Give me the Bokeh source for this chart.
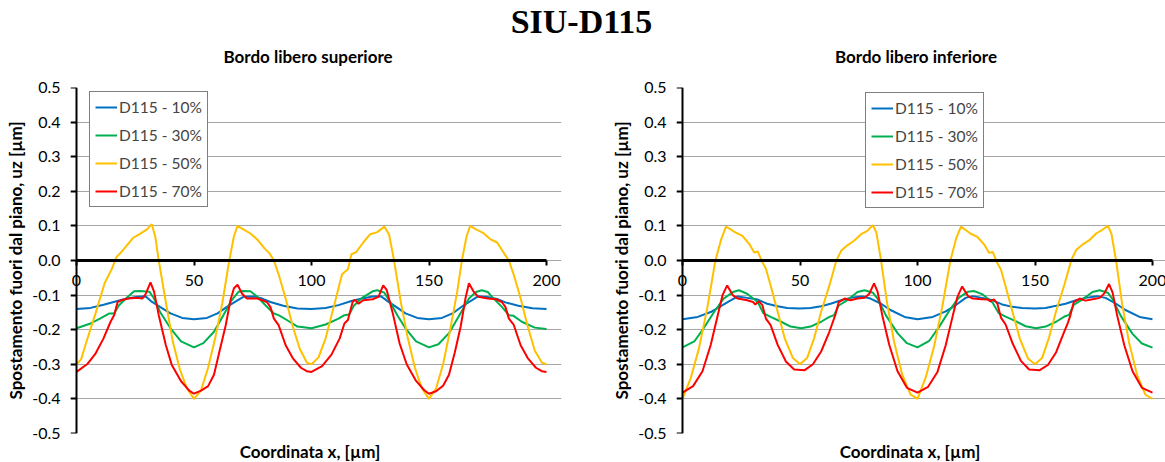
from bokeh.plotting import figure
from bokeh.models import (FixedTicker, LinearAxis, PrintfTickFormatter, Legend,
                          LegendItem, Div, Range1d, Spacer)
from bokeh.layouts import column, row
from bokeh.embed import file_html
from bokeh.resources import INLINE

# ---------------- data ----------------
MAIN_TITLE = "SIU-D115"
PANEL_TITLES = ["Bordo libero superiore", "Bordo libero inferiore"]
X_LABEL = "Coordinata x, [µm]"
Y_LABEL = "Spostamento fuori dal piano, uz [µm]"
SERIES_NAMES = ["D115 - 10%", "D115 - 30%", "D115 - 50%", "D115 - 70%"]
X_MIN, X_MAX = 0, 200
Y_MIN, Y_MAX = -0.5, 0.5
X_TICKS = [0, 50, 100, 150, 200]
Y_TICKS = [-0.5, -0.4, -0.3, -0.2, -0.1, 0.0, 0.1, 0.2, 0.3, 0.4, 0.5]

# Bordo libero superiore
L10_X = [0, 6, 11.5, 17, 21.5, 26, 29.5, 32, 35.5, 40, 45, 50, 55.5, 60, 64, 68.5, 71, 75.5, 79, 82.5, 88, 94,
         100, 106, 111.5, 117, 121.5, 126, 129.5, 132.5, 136, 140, 145, 150, 155.5, 160, 164, 168.5, 171, 175.5,
         179, 182.5, 188, 194, 200]
L10_Y = [-0.140, -0.137, -0.128, -0.118, -0.110, -0.105, -0.104, -0.119, -0.134, -0.153, -0.166, -0.170, -0.166,
         -0.153, -0.134, -0.115, -0.105, -0.104, -0.110, -0.120, -0.131, -0.139,
         -0.140, -0.137, -0.129, -0.117, -0.110, -0.104, -0.103, -0.118, -0.134, -0.153, -0.166, -0.170, -0.166,
         -0.153, -0.133, -0.114, -0.103, -0.106, -0.111, -0.121, -0.131, -0.138, -0.140]

L30_X = [0, 6, 10, 14, 16, 18, 21, 24.5, 27, 31, 33, 35.5, 40, 44.5, 50, 54, 58.5, 62.5, 66, 69, 71, 74, 77, 80.5,
         84, 86, 89.5, 94,
         100, 106, 111.5, 114, 116, 118, 121.5, 126, 128, 131, 133.5, 136.5, 140, 144.5, 150, 154, 158.5, 162.5,
         167, 170, 172.5, 175, 177.5, 181, 184, 186, 189.5, 195, 200]
L30_Y = [-0.196, -0.182, -0.168, -0.153, -0.153, -0.130, -0.110, -0.089, -0.088, -0.090, -0.110, -0.148, -0.196,
         -0.234, -0.251, -0.239, -0.206, -0.158, -0.115, -0.090, -0.088, -0.089, -0.105, -0.130, -0.153, -0.158,
         -0.172, -0.191,
         -0.196, -0.185, -0.168, -0.158, -0.156, -0.131, -0.108, -0.089, -0.086, -0.093, -0.120, -0.158, -0.196,
         -0.234, -0.251, -0.242, -0.210, -0.163, -0.110, -0.091, -0.086, -0.091, -0.110, -0.134, -0.158, -0.160,
         -0.177, -0.194, -0.198]

L50_X = [0, 2, 4, 8, 12, 15, 17, 18.5, 21, 24, 27, 30, 32, 33.5, 35, 38, 41, 44, 47, 50, 53, 56, 59, 62, 65, 67,
         68.5, 71, 74, 77, 80, 82, 84, 86, 89, 92, 95, 98,
         100, 103, 106, 110, 113, 115.5, 117, 119, 122, 125, 128, 131, 133, 135, 138, 141, 144, 147, 150, 153, 156,
         159, 162, 164, 166, 167.5, 170, 173, 176, 179, 182, 184, 186, 189, 192, 195, 198, 200]
L50_Y = [-0.300, -0.285, -0.240, -0.155, -0.065, -0.025, 0.010, 0.020, 0.040, 0.065, 0.077, 0.090, 0.105, 0.070,
         0.000, -0.120, -0.235, -0.315, -0.370, -0.400, -0.375, -0.310, -0.225, -0.125, 0.000, 0.070, 0.100, 0.090,
         0.078, 0.060, 0.035, 0.022, 0.000, -0.040, -0.110, -0.190, -0.255, -0.295,
         -0.300, -0.280, -0.225, -0.120, -0.040, -0.025, 0.018, 0.024, 0.052, 0.076, 0.082, 0.098, 0.075, 0.005,
         -0.120, -0.225, -0.310, -0.370, -0.400, -0.370, -0.300, -0.200, -0.090, 0.000, 0.070, 0.100, 0.090, 0.080,
         0.062, 0.052, 0.020, 0.000, -0.040, -0.110, -0.190, -0.260, -0.295, -0.300]

L70_X = [0, 4.5, 8, 11.5, 14.5, 16, 17.5, 19, 22, 26, 28, 29.5, 31.5, 33, 35, 38, 40.5, 44.5, 48, 50, 53, 56, 58.5,
         61, 63.5, 65.5, 67, 68.5, 70.5, 72.5, 77, 81, 82.5, 84, 86, 89, 92, 95.5, 98,
         100, 104.5, 108.5, 112, 114, 115.5, 117.5, 118.5, 120, 122, 126, 128.5, 130.5, 132, 134.5, 137.5, 140.5,
         144.5, 148, 150, 153, 156, 158.5, 161, 163.5, 165.5, 167, 169, 171, 175, 178.5, 181, 182.5, 184, 186, 189,
         192, 195.5, 198, 200]
L70_Y = [-0.322, -0.300, -0.270, -0.225, -0.177, -0.158, -0.120, -0.115, -0.110, -0.108, -0.110, -0.096, -0.063,
         -0.090, -0.158, -0.244, -0.301, -0.349, -0.376, -0.385, -0.376, -0.363, -0.330, -0.258, -0.187, -0.115,
         -0.080, -0.070, -0.096, -0.110, -0.110, -0.120, -0.134, -0.168, -0.187, -0.245, -0.282, -0.310, -0.320,
         -0.322, -0.305, -0.272, -0.225, -0.182, -0.172, -0.120, -0.113, -0.125, -0.115, -0.112, -0.105, -0.072,
         -0.085, -0.150, -0.240, -0.300, -0.348, -0.375, -0.385, -0.378, -0.362, -0.330, -0.265, -0.190, -0.110,
         -0.066, -0.090, -0.105, -0.110, -0.112, -0.120, -0.134, -0.168, -0.185, -0.245, -0.282, -0.310, -0.320,
         -0.322]

# Bordo libero inferiore
R10_X = [0, 6.5, 12, 16.5, 20.5, 23.5, 27.5, 32, 36, 40.5, 44.5, 50, 54.5, 59, 63, 67.5, 71.5, 76.5, 80, 84.5,
         88.5, 94.5,
         100, 106.5, 112, 116.5, 120.5, 123.5, 127.5, 132, 136, 140.5, 144.5, 150, 154.5, 159, 163, 167.5, 171.5,
         176.5, 180, 184.5, 188.5, 194.5, 200]
R10_Y = [-0.170, -0.163, -0.149, -0.131, -0.115, -0.104, -0.108, -0.113, -0.125, -0.132, -0.137, -0.139, -0.137,
         -0.132, -0.125, -0.115, -0.108, -0.104, -0.110, -0.125, -0.143, -0.163,
         -0.170, -0.163, -0.147, -0.128, -0.108, -0.103, -0.108, -0.115, -0.127, -0.134, -0.137, -0.139, -0.137,
         -0.131, -0.125, -0.115, -0.108, -0.103, -0.108, -0.125, -0.143, -0.163, -0.170]

R30_X = [0, 5, 9, 13.5, 17.5, 21.5, 24, 27.5, 32, 34.5, 37.5, 42, 46, 50.5, 54.5, 59, 62.5, 64.5, 66.5, 70, 74.5,
         77.5, 81, 83, 86.5, 91.5, 95.5,
         100, 105, 109, 113.5, 117.5, 121.5, 124, 127.5, 132, 134.5, 137.5, 142, 146, 150.5, 154.5, 159, 162.5,
         164.5, 166.5, 170, 174.5, 177.5, 181, 183, 186.5, 191.5, 195.5, 200]
R30_Y = [-0.251, -0.234, -0.196, -0.148, -0.110, -0.091, -0.086, -0.096, -0.120, -0.153, -0.163, -0.177, -0.191,
         -0.196, -0.191, -0.177, -0.163, -0.158, -0.130, -0.115, -0.091, -0.086, -0.093, -0.110, -0.158, -0.210,
         -0.239,
         -0.251, -0.232, -0.194, -0.145, -0.108, -0.090, -0.088, -0.097, -0.122, -0.152, -0.162, -0.176, -0.190,
         -0.196, -0.191, -0.177, -0.162, -0.157, -0.128, -0.113, -0.091, -0.086, -0.093, -0.112, -0.160, -0.212,
         -0.240, -0.252]

R50_X = [0, 3.5, 7, 10.5, 14, 16.5, 18.5, 20.5, 22.5, 25.5, 28.5, 30.5, 32, 34, 35.5, 37.5, 40.5, 43.5, 47, 50,
         53, 56, 59, 62.5, 64.5, 65.5, 67.5, 70, 73, 76, 78.5, 81, 82.5, 84.5, 87, 90, 93.5, 97,
         100, 103.5, 107, 110.5, 114, 116.5, 118.5, 120.5, 122.5, 125.5, 128.5, 130.5, 132, 134, 135.5, 137.5,
         140.5, 143.5, 147, 150, 153, 156, 159, 162.5, 164.5, 165.5, 167.5, 170, 173, 176, 178.5, 181, 182.5,
         184.5, 187, 190, 193.5, 197, 200]
R50_Y = [-0.400, -0.340, -0.254, -0.139, 0.000, 0.062, 0.098, 0.090, 0.081, 0.071, 0.047, 0.023, 0.026, -0.005,
         -0.024, -0.072, -0.148, -0.225, -0.282, -0.300, -0.282, -0.225, -0.148, -0.072, -0.024, 0.000, 0.028,
         0.043, 0.057, 0.076, 0.085, 0.102, 0.081, 0.000, -0.120, -0.234, -0.330, -0.387,
         -0.400, -0.338, -0.250, -0.135, 0.000, 0.065, 0.098, 0.088, 0.078, 0.068, 0.045, 0.022, 0.025, -0.008,
         -0.026, -0.075, -0.150, -0.225, -0.283, -0.300, -0.282, -0.222, -0.146, -0.070, -0.022, 0.002, 0.030,
         0.045, 0.058, 0.078, 0.088, 0.100, 0.078, 0.000, -0.122, -0.236, -0.332, -0.388, -0.400]

R70_X = [0, 4.5, 8.5, 12, 15, 17, 19, 21.5, 23.5, 27.5, 30, 31, 32.5, 34, 35.5, 37.5, 40.5, 44, 47.5, 52, 55.5,
         59, 62.5, 64, 65, 66.5, 69, 71.5, 74.5, 77.5, 79.5, 81.5, 83, 85, 88, 91.5, 95.5,
         100, 104.5, 108.5, 112, 115, 117, 119, 121.5, 123.5, 127.5, 130, 131, 132.5, 134, 135.5, 137.5, 140.5,
         144, 147.5, 152, 155.5, 159, 162.5, 164, 165, 166.5, 169, 171.5, 174.5, 177.5, 179.5, 181.5, 183, 185,
         188, 191.5, 195.5, 200]
R70_Y = [-0.382, -0.363, -0.320, -0.244, -0.158, -0.101, -0.072, -0.101, -0.110, -0.115, -0.120, -0.127, -0.118,
         -0.129, -0.168, -0.187, -0.244, -0.292, -0.315, -0.317, -0.300, -0.263, -0.206, -0.177, -0.158, -0.120,
         -0.110, -0.115, -0.110, -0.108, -0.096, -0.066, -0.090, -0.158, -0.244, -0.320, -0.368,
         -0.382, -0.365, -0.322, -0.245, -0.160, -0.105, -0.075, -0.103, -0.110, -0.112, -0.113, -0.118, -0.112,
         -0.125, -0.165, -0.185, -0.240, -0.290, -0.315, -0.317, -0.302, -0.265, -0.205, -0.180, -0.160, -0.120,
         -0.110, -0.116, -0.112, -0.108, -0.095, -0.068, -0.092, -0.160, -0.245, -0.320, -0.368, -0.382]

COLORS = ["#0070C0", "#00B050", "#FFC000", "#FF0000"]

# ---------------- styling ----------------
FONT = "Lato"
LBL_SIZE = "17px"
SUB_SIZE = "17px"
TICK_SIZE = "16px"
PLOT_W, FRAME_H = 470, 346          # pixel width of the 0..200 data span
PAD_L, PAD_R = 6, 15                # extra frame pixels so end tick labels are not clipped
FRAME_W = PLOT_W + PAD_L + PAD_R
PX_PER_UNIT = PLOT_W / (X_MAX - X_MIN)
L_LEFT, L_RIGHT = 76, 62
R_LEFT, R_RIGHT = 68, 17
TOP_B, BOT_B = 17, 9
HEADER_H, SUB_H, XLBL_H = 44, 26, 20


def make_panel(data, legend_loc, border_left, border_right):
    p = figure(frame_width=FRAME_W, frame_height=FRAME_H,
               x_range=Range1d(X_MIN - PAD_L / PX_PER_UNIT, X_MAX + PAD_R / PX_PER_UNIT),
               y_range=Range1d(Y_MIN, Y_MAX),
               x_axis_location=None,
               min_border_left=border_left - PAD_L, min_border_right=border_right - PAD_R,
               min_border_top=TOP_B, min_border_bottom=BOT_B,
               margin=0,
               output_backend="svg", toolbar_location=None)
    p.outline_line_color = None
    p.background_fill_color = "white"
    p.border_fill_color = "white"

    # y axis: labels in the side panel
    yax = p.yaxis[0]
    yax.ticker = FixedTicker(ticks=Y_TICKS)
    yax.formatter = PrintfTickFormatter(format="%.1f")
    yax.axis_line_color = None
    yax.major_tick_line_color = None
    yax.major_tick_out = 0
    yax.major_tick_in = 0
    yax.minor_tick_line_color = None
    yax.major_label_text_font = FONT
    yax.major_label_text_font_size = TICK_SIZE
    yax.major_label_text_color = "black"
    yax.major_label_standoff = 10
    yax.axis_label = Y_LABEL
    yax.axis_label_text_font = FONT
    yax.axis_label_text_font_size = LBL_SIZE
    yax.axis_label_text_font_style = "bold"
    yax.axis_label_text_color = "black"
    yax.axis_label_standoff = 3

    # y axis line + ticks at x = 0
    yline = LinearAxis(fixed_location=X_MIN, ticker=FixedTicker(ticks=Y_TICKS))
    yline.axis_line_color = "black"
    yline.axis_line_width = 2
    yline.major_tick_line_color = "black"
    yline.major_tick_line_width = 2
    yline.major_tick_out = 6
    yline.major_tick_in = 0
    yline.minor_tick_line_color = None
    yline.major_label_text_color = None
    p.add_layout(yline, "left")

    p.ygrid.ticker = FixedTicker(ticks=Y_TICKS)
    p.ygrid.grid_line_color = "#A6A6A6"
    p.ygrid.grid_line_width = 1
    p.ygrid.bounds = (X_MIN, X_MAX)
    p.xgrid.visible = False

    # x axis crossing at y = 0
    xax = LinearAxis(fixed_location=0, ticker=FixedTicker(ticks=X_TICKS), bounds=(X_MIN, X_MAX))
    xax.axis_line_color = "black"
    xax.axis_line_width = 3
    xax.major_tick_line_color = "black"
    xax.major_tick_line_width = 2
    xax.major_tick_out = 5
    xax.major_tick_in = 0
    xax.minor_tick_line_color = None
    xax.major_label_text_font = FONT
    xax.major_label_text_font_size = TICK_SIZE
    xax.major_label_text_color = "black"
    xax.major_label_standoff = 9
    p.add_layout(xax, "below")

    items = []
    for (xs, ys), name, color in zip(data, SERIES_NAMES, COLORS):
        r = p.line(xs, ys, line_color=color, line_width=2)
        items.append(LegendItem(label=name, renderers=[r]))

    legend = Legend(items=items, location=(legend_loc[0] + PAD_L, legend_loc[1]))
    legend.border_line_color = "black"
    legend.border_line_width = 1
    legend.background_fill_color = "white"
    legend.background_fill_alpha = 1
    legend.label_text_font = FONT
    legend.label_text_font_size = "15.5px"
    legend.glyph_width = 22
    legend.glyph_height = 20
    legend.label_height = 20
    legend.label_standoff = 2
    legend.spacing = 8
    legend.padding = 5
    legend.margin = 0
    p.add_layout(legend)
    return p


left = make_panel([(L10_X, L10_Y), (L30_X, L30_Y), (L50_X, L50_Y), (L70_X, L70_Y)],
                  (13, 226), L_LEFT, L_RIGHT)
right = make_panel([(R10_X, R10_Y), (R30_X, R30_Y), (R50_X, R50_Y), (R70_X, R70_Y)],
                   (183, 225), R_LEFT, R_RIGHT)

TOTAL_W = L_LEFT + PLOT_W + L_RIGHT + R_LEFT + PLOT_W + R_RIGHT

header = Div(text=MAIN_TITLE, width=TOTAL_W, height=HEADER_H, margin=0,
             styles={"text-align": "center", "font-family": "'Liberation Serif', 'Times New Roman', serif",
                     "font-size": "34px", "font-weight": "bold", "line-height": "%dpx" % HEADER_H})


def text_div(txt, h):
    return Div(text=txt, width=PLOT_W, height=h, margin=0,
               styles={"text-align": "center", "font-family": FONT, "font-size": SUB_SIZE,
                       "font-weight": "bold", "line-height": "%dpx" % h, "color": "black"})


def text_row(texts, h, first, gap):
    return row(Spacer(width=first, height=h, margin=0), text_div(texts[0], h),
               Spacer(width=gap, height=h, margin=0), text_div(texts[1], h),
               Spacer(width=TOTAL_W - first - gap - 2 * PLOT_W, height=h, margin=0))


subtitles = text_row(PANEL_TITLES, SUB_H, 73, 138)
xlabels = text_row([X_LABEL, X_LABEL], XLBL_H, 75, 130)

layout = column(header, subtitles, row(left, right), xlabels)
open("out.html", "w").write(file_html(layout, INLINE))
